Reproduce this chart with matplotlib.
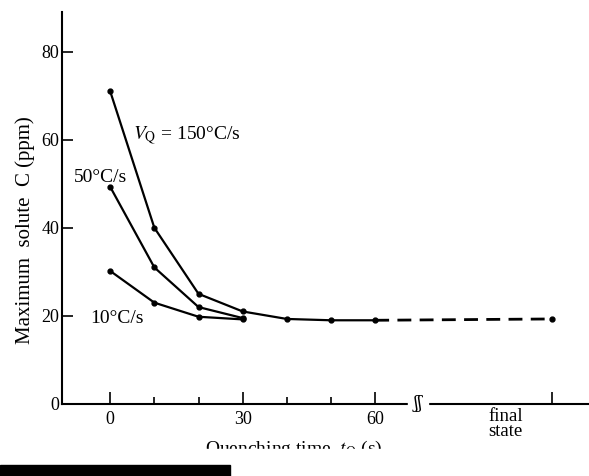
import matplotlib.pyplot as plt
from matplotlib.patches import Rectangle

plt.rcParams['font.family'] = ['Liberation Serif', 'DejaVu Serif']
plt.rcParams['mathtext.fontset'] = 'stix'

# quenching time (s) and max solute C (ppm) for each quench rate
t_q = [0, 10, 20, 30, 40, 50, 60]
c_150 = [71, 40, 25, 21, 19.3, 19, 19]
t_50 = [0, 10, 20, 30]
c_50 = [49.3, 31, 22, 19.5]
t_10 = [0, 10, 20, 30]
c_10 = [30.2, 23, 19.8, 19.2]
# final state (plotted after the axis break)
t_final = [60, 100]
c_final = [19, 19.3]

fig = plt.figure(figsize=(5.89, 4.76), dpi=100)
ax = fig.add_axes([0.1053, 0.1513, 0.8947, 0.8237])

ax.plot(t_q, c_150, '-o', color='black', lw=1.6, ms=3.5)
ax.plot(t_50, c_50, '-o', color='black', lw=1.6, ms=3.5)
ax.plot(t_10, c_10, '-o', color='black', lw=1.6, ms=3.5)
ax.plot(t_final, c_final, '--o', color='black', lw=2.0, ms=3.5,
        dashes=(5, 3), markevery=[1])

ax.set_xlim(-10.9, 108.4)
ax.set_ylim(0, 89)
ax.spines['top'].set_visible(False)
ax.spines['right'].set_visible(False)
ax.spines['left'].set_linewidth(1.5)
ax.spines['bottom'].set_linewidth(1.5)

ax.set_yticks([0, 20, 40, 60, 80])
ax.tick_params(axis='y', direction='in', length=8, width=1.2, labelsize=13, pad=2)
ax.set_xticks([0, 30, 60, 100])
ax.set_xticklabels(['0', '30', '60', ''])
ax.set_xticks([10, 20, 40, 50], minor=True)
ax.tick_params(axis='x', which='major', direction='in', length=9, width=1.2, labelsize=13, pad=5)
ax.tick_params(axis='x', which='minor', direction='in', length=5, width=1.2)

ax.text(89.5, -1.0, 'final\nstate', ha='center', va='top', fontsize=13.5,
        linespacing=0.85)
# axis break mark
ax.text(69.7, 0, 'ʃʃ', ha='center', va='center', fontsize=12,
        backgroundcolor='white', family='DejaVu Serif')

ax.text(5.2, 60.0, '$V_{\\mathrm{Q}}$ = 150°C/s', fontsize=14)
ax.text(-8.2, 50.5, '50°C/s', fontsize=14)
ax.text(-4.5, 18.4, '10°C/s', fontsize=14)

ax.set_ylabel('Maximum  solute  C (ppm)', fontsize=15)
ax.yaxis.set_label_coords(-0.052, 0.444)

# x label, clipped by the scan edge; black bar at the bottom
fig.text(294 / 589, 21 / 476, 'Quenching time, $t_{\\mathrm{Q}}$ (s)',
         ha='center', va='baseline', fontsize=14)
fig.patches.append(Rectangle((0, 0), 1, 27 / 476, transform=fig.transFigure,
                             color='white', zorder=5))
fig.patches.append(Rectangle((0, 0), 230 / 589, 11 / 476, transform=fig.transFigure,
                             color='black', zorder=6))

fig.savefig('out.png', dpi=100)
